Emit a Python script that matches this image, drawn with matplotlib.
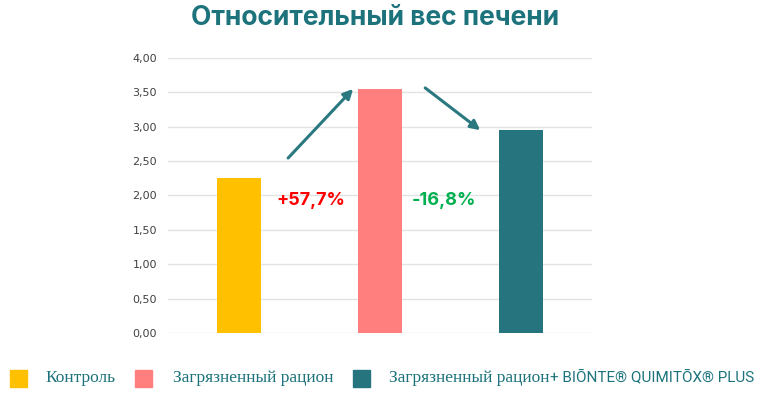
import matplotlib.pyplot as plt
from matplotlib.patches import Rectangle

# data
categories = ['Контроль', 'Загрязненный рацион', 'Загрязненный рацион']
values = [2.25, 3.55, 2.96]
colors = ['#FFC000', '#FF7F7F', '#26747E']
legend_labels = ['Контроль', 'Загрязненный рацион', 'Загрязненный рацион']
brand = '+ BIŌNTE® QUIMITŌX® PLUS'
changes = ['+57,7%', '-16,8%']
change_colors = ['#FF0000', '#00B050']

teal = '#1D737B'

fig = plt.figure(figsize=(7.68, 3.93), dpi=100)
ax = fig.add_axes([0.21875, 0.1527, 0.552, 0.6997])

x = range(len(values))
ax.bar(x, values, width=0.31, color=colors, zorder=3)

ax.set_xlim(-0.5, 2.5)
ax.set_ylim(0, 4)
ax.set_yticks([i * 0.5 for i in range(9)])
ax.yaxis.set_major_formatter(plt.FuncFormatter(lambda v, p: ('%.2f' % v).replace('.', ',')))
ax.set_xticks([])
ax.tick_params(axis='y', length=0, labelsize=8, labelcolor='#404040', pad=8)
ax.grid(axis='y', color='#E3E3E3', linewidth=1, zorder=0)
for s in ax.spines.values():
    s.set_visible(False)

# arrows
arrow_kw = dict(arrowstyle='-|>', color='#2A7880', lw=2.2, mutation_scale=14, shrinkA=0, shrinkB=0)
ax.annotate('', xy=(0.81, 3.55), xytext=(0.35, 2.545), arrowprops=arrow_kw)
ax.annotate('', xy=(1.71, 2.95), xytext=(1.32, 3.565), arrowprops=arrow_kw)

ax.text(0.51, 1.93, changes[0], color=change_colors[0], fontsize=13, fontweight='bold',
        ha='center', va='center', family='Inter')
ax.text(1.45, 1.93, changes[1], color=change_colors[1], fontsize=13, fontweight='bold',
        ha='center', va='center', family='Inter')

fig.text(0.488, 0.955, 'Относительный вес печени', ha='center', va='center',
         fontsize=19, fontweight='bold', color=teal, family='Inter')

# legend drawn at the bottom
leg_y = 1 - 378 / 393
sq = 17 / 768
items = [(10, 45, legend_labels[0], colors[0]),
         (135, 173, legend_labels[1], colors[1]),
         (353, 389, legend_labels[2], colors[2])]
last = None
for sx, tx, lab, c in items:
    fig.add_artist(Rectangle((sx / 768, leg_y - 8.5 / 393), sq, 17 / 393,
                             transform=fig.transFigure, color=c))
    last = fig.text(tx / 768, leg_y, lab, ha='left', va='center', fontsize=12.5,
                    color=teal, family='Liberation Serif')
ax.annotate(brand, xy=(1, 0.5), xycoords=last,
            xytext=(0, 0), textcoords='offset points', ha='left', va='center',
            fontsize=11, color=teal, family='Roboto', annotation_clip=False)

fig.savefig('out.png', dpi=100)
